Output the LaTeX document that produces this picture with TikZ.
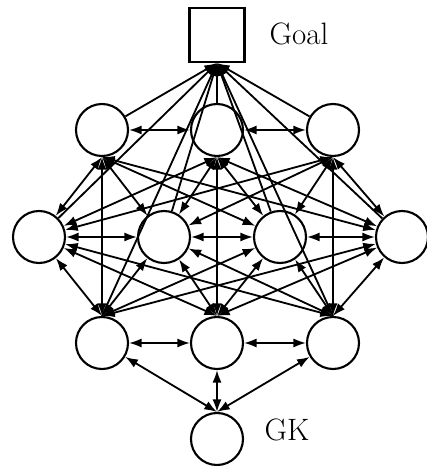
\documentclass[tikz,border=0pt]{standalone}
\usepackage{tikz}
\usetikzlibrary{arrows.meta}

\begin{document}
\begin{tikzpicture}[>={Latex[length=9pt,width=6.5pt]}, font=\small]
  \tikzset{
    player/.style={circle, draw, minimum size=1.3cm, inner sep=0pt, line width=1.5pt},
    goalbox/.style={rectangle, draw, minimum width=1.375cm, minimum height=1.35cm, inner sep=0pt, line width=1.5pt},
    link/.style={<->, line width=1.3pt},
    shot/.style={->, line width=1.3pt},
    tag/.style={font=\fontsize{22}{26}\selectfont}
  }
  \useasboundingbox (0,0) rectangle (10.675,11.65);

  % goal and players
  \node[goalbox] (goal) at (5.425,10.775) {};
  \node[tag] (goaltxt) at (7.475,10.8) {Goal};

  \node[player] (f1) at (2.55,8.4) {};
  \node[player] (f2) at (5.425,8.4) {};
  \node[player] (f3) at (8.325,8.4) {};

  \node[player] (m1) at (0.975,5.725) {};
  \node[player] (m2) at (4.1,5.725) {};
  \node[player] (m3) at (7.0,5.725) {};
  \node[player] (m4) at (10.05,5.725) {};

  \node[player] (d1) at (2.55,3.075) {};
  \node[player] (d2) at (5.425,3.075) {};
  \node[player] (d3) at (8.325,3.075) {};

  \node[player] (gk) at (5.425,0.675) {};
  \node[tag] (gktxt) at (7.175,0.9) {GK};

  % links inside a line
  \foreach \a/\b in {f1/f2, f2/f3, m1/m2, m2/m3, m3/m4, d1/d2, d2/d3}
    \draw[link] (\a) -- (\b);
  % forwards and defenders meet at one point
  \foreach \f/\d in {f1/d1, f2/d2, f3/d3}
    \draw[link] (\f.south) -- (\d.north);
  \foreach \f in {f1,f2,f3}
    \foreach \m in {m1,m2,m3,m4}
      \draw[link] (\f.south) -- (\m);
  \foreach \d in {d1,d2,d3}
    \foreach \m in {m1,m2,m3,m4}
      \draw[link] (\d.north) -- (\m);
  \foreach \d in {d1,d2,d3}
    \draw[link] (\d) -- (gk.north);

  % everyone heads for the goal
  \foreach \p in {f1,f2,f3,m1,m2,m3,m4}
    \draw[shot] (\p) -- (goal.south);
  \foreach \d in {d1,d3}
    \draw[shot] (\d.north) -- (goal.south);
\end{tikzpicture}
\end{document}
